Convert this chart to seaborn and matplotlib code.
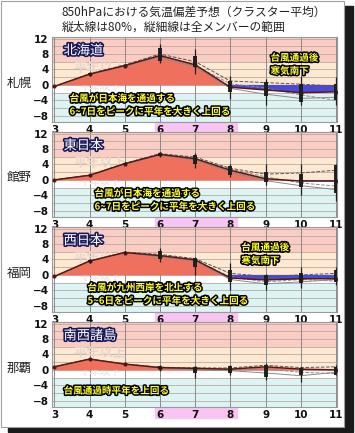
import numpy as np
import pandas as pd
import seaborn as sns
import matplotlib.pyplot as plt
import matplotlib.patheffects as pe
from matplotlib.patches import Rectangle
from matplotlib.transforms import blended_transform_factory

sns.set_theme(style="white")
plt.rcParams['font.family'] = ['Noto Sans CJK JP', 'DejaVu Sans']

# data
days = [3, 4, 5, 6, 7, 8, 9, 10, 11]
stations = ['札幌', '館野', '福岡', '那覇']
regions = ['北海道', '東日本', '西日本', '南西諸島']

sapporo_mean = [-0.4, 2.8, 5.0, 7.6, 5.2, -0.6, -1.3, -2.0, -1.8]
sapporo_lo80 = [-0.4, 2.6, 4.8, 6.3, 4.6, -1.9, -2.8, -4.4, -4.0]
sapporo_hi80 = [-0.4, 3.0, 5.2, 9.5, 7.6, 1.1, 0.7, 0.3, 0.3]
sapporo_min = [-0.4, 2.4, 4.6, 5.8, 2.8, -3.6, -5.3, -5.3, -5.3]
sapporo_max = [-0.4, 3.2, 5.4, 10.5, 9.3, 2.4, 1.5, 2.4, 2.0]
sapporo_m1 = [-0.4, 2.9, 5.2, 8.0, 6.0, 1.0, 0.6, 0.2, -0.3]
sapporo_m2 = [-0.4, 2.7, 4.9, 7.2, 4.6, -0.9, -2.4, -3.5, -3.2]
sapporo_m3 = [-0.4, 2.8, 5.1, 7.4, 5.0, 0.3, -0.8, -2.6, -4.0]

tateno_mean = [0.0, 1.2, 4.2, 6.6, 5.5, 2.5, 0.3, -0.3, -0.3]
tateno_lo80 = [0.0, 1.1, 4.0, 6.3, 4.1, 1.2, -0.5, -1.8, -3.5]
tateno_hi80 = [0.0, 1.3, 4.4, 6.9, 6.4, 3.6, 2.0, 1.6, 3.8]
tateno_min = [0.0, 1.0, 3.8, 6.0, 3.0, 0.8, -1.4, -4.0, -5.5]
tateno_max = [0.0, 1.4, 4.6, 7.2, 7.0, 4.2, 4.0, 4.2, 4.2]
tateno_m1 = [0.0, 1.2, 4.3, 6.8, 5.9, 3.0, 1.5, 1.8, 2.5]
tateno_m2 = [0.0, 1.2, 4.1, 6.4, 5.2, 2.0, -0.2, -1.5, -2.5]
tateno_m3 = [0.0, 1.2, 4.2, 6.5, 5.4, 2.8, 0.8, -0.8, -1.6]

fukuoka_mean = [-0.4, 3.6, 5.8, 5.0, 3.9, -0.8, -1.3, -1.0, -1.0]
fukuoka_lo80 = [-0.4, 3.4, 5.6, 4.0, 2.1, -1.8, -2.6, -2.1, -1.8]
fukuoka_hi80 = [-0.4, 3.8, 6.0, 6.2, 4.4, 1.3, 0.0, 0.5, 1.3]
fukuoka_min = [-0.4, 3.2, 5.4, 3.4, 0.0, -3.9, -3.9, -3.4, -2.6]
fukuoka_max = [-0.4, 4.0, 6.2, 7.0, 4.7, 3.1, 0.3, 2.1, 2.1]
fukuoka_m1 = [-0.4, 3.6, 5.9, 5.3, 4.2, 0.4, -0.4, 0.0, 0.4]
fukuoka_m2 = [-0.4, 3.6, 5.7, 4.7, 3.5, -1.2, -2.3, -1.8, -1.2]
fukuoka_m3 = [-0.4, 3.6, 5.8, 5.0, 3.7, -0.5, -1.8, -1.2, -1.6]

naha_mean = [0.8, 2.8, 1.5, 0.6, 0.4, 0.2, 0.8, 0.2, 0.0]
naha_lo80 = [0.8, 2.7, 1.4, 0.2, -0.8, -0.9, -1.8, -1.2, -1.2]
naha_hi80 = [0.8, 2.9, 1.6, 1.0, 0.8, 1.1, 1.3, 0.6, 0.8]
naha_min = [0.8, 2.6, 1.3, -0.2, -2.1, -1.3, -2.6, -3.0, -1.3]
naha_max = [0.8, 3.0, 1.7, 1.3, 0.8, 1.3, 1.7, 0.8, 1.3]
naha_m1 = [0.8, 2.8, 1.5, 0.7, 0.5, 0.5, 1.2, 0.6, 0.8]
naha_m2 = [0.8, 2.8, 1.5, 0.5, 0.0, -0.2, -0.8, -1.5, -0.6]
naha_m3 = [0.8, 2.8, 1.5, 0.6, 0.3, 0.0, 0.2, -0.6, -1.0]

means = [sapporo_mean, tateno_mean, fukuoka_mean, naha_mean]
lo80 = [sapporo_lo80, tateno_lo80, fukuoka_lo80, naha_lo80]
hi80 = [sapporo_hi80, tateno_hi80, fukuoka_hi80, naha_hi80]
mins = [sapporo_min, tateno_min, fukuoka_min, naha_min]
maxs = [sapporo_max, tateno_max, fukuoka_max, naha_max]
members = [[sapporo_m1, sapporo_m2, sapporo_m3],
           [tateno_m1, tateno_m2, tateno_m3],
           [fukuoka_m1, fukuoka_m2, fukuoka_m3],
           [naha_m1, naha_m2, naha_m3]]

notes = [['台風が日本海を通過する\n6~7日をピークに平年を大きく上回る', '台風通過後\n寒気南下'],
         ['台風が日本海を通過する\n6~7日をピークに平年を大きく上回る', None],
         ['台風が九州西岸を北上する\n5~6日をピークに平年を大きく上回る', '台風通過後\n寒気南下'],
         ['台風通過時平年を上回る', None]]
note_pos = [[(3.43, -5.2), (9.14, 5.3)],
            [(4.14, -5.2), None],
            [(3.94, -5.0), (8.31, 5.4)],
            [(3.26, -5.4), None]]

W, H = 355, 433
fig = plt.figure(figsize=(W / 100, H / 100), dpi=100)
fig.patch.set_facecolor('white')


def rect(x0, y0, x1, y1):
    return [x0 / W, 1 - y1 / H, (x1 - x0) / W, (y1 - y0) / H]


# card with shadow
fig.patches.append(Rectangle((8 / W, 1 - 432 / H), 345 / W, 426 / H,
                             transform=fig.transFigure, color='#1a1a1a', zorder=-3))
fig.patches.append(Rectangle((1 / W, 1 - 427 / H), 343 / W, 426 / H,
                             transform=fig.transFigure, facecolor='white',
                             edgecolor='#a0a0a0', lw=0.8, zorder=-2))

fig.text(62 / W, 1 - 12 / H, '850hPaにおける気温偏差予想（クラスター平均）',
         fontsize=8.5, va='center', ha='left', color='#222222')
fig.text(62 / W, 1 - 27 / H, '縦太線は80%，縦細線は全メンバーの範囲',
         fontsize=8.5, va='center', ha='left', color='#222222')

yellow_fx = [pe.withStroke(linewidth=2.2, foreground='black')]
white_fx = [pe.withStroke(linewidth=2.4, foreground='#1a1a5a')]
tops = [37, 132, 227, 322]

for i in range(4):
    ax = fig.add_axes(rect(52, tops[i], 337, tops[i] + 85))
    ax.set_xlim(2.93, 11.03)
    ax.set_ylim(-9.6, 12.4)

    # background bands
    ax.axhspan(6, 13, color='#f9cdc4', zorder=0, lw=0)
    ax.axhspan(0, 6, color='#fde9d2', zorder=0, lw=0)
    ax.axhspan(-2.2, 0, color='white', zorder=0, lw=0)
    ax.axhspan(-10, -2.2, color='#dcf4f4', zorder=0, lw=0)
    for g in range(-8, 13, 2):
        ax.axhline(g, color='#c0a8a0', lw=0.6, zorder=1)
    for d in days:
        ax.axvline(d, color='#8a8a8a', lw=0.7, zorder=1)

    # faint watermarks
    ax.text(4.3, 4.4, '平年以上', fontsize=9.5, color='#e8d4cc', fontweight='bold',
            ha='center', va='center', zorder=1)
    ax.text(4.3, -0.55, '平年以下', fontsize=7.5, color='#e4ecec', fontweight='bold',
            ha='center', va='center', zorder=1)

    m = np.array(means[i])
    ax.fill_between(days, 0, m, where=m >= 0, interpolate=True,
                    color='#f0705e', lw=0, zorder=2)
    ax.fill_between(days, 0, m, where=m <= 0, interpolate=True,
                    color='#4a4ad6', lw=0, zorder=2)

    df = pd.DataFrame({'day': days, 'mean': means[i]})
    for k, mem in enumerate(members[i]):
        sns.lineplot(x=days, y=mem, ax=ax, color='#555555' if k == 0 else '#8a8a8a',
                     lw=0.7, linestyle='--' if k != 1 else '-', zorder=3)
    sns.lineplot(data=df, x='day', y='mean', ax=ax, color='#5a1810', lw=1.1,
                 marker='o', markersize=3, markeredgewidth=0, zorder=4)

    ax.vlines(days, mins[i], maxs[i], color='#1e1e1e', lw=0.9, zorder=5)
    ax.vlines(days, lo80[i], hi80[i], color='#1e1e1e', lw=2.8, zorder=5)

    ax.set_xlabel('')
    ax.set_ylabel('')
    ax.set_xticks(days)
    ax.set_xticklabels([str(d) for d in days], fontsize=7.5, fontweight='bold',
                       family='DejaVu Sans')
    ax.set_yticks([-8, -4, 0, 4, 8, 12])
    ax.set_yticklabels(['\u22128', '\u22124', '0', '4', '8', '12'], fontsize=7.5,
                       fontweight='bold', family='DejaVu Sans')
    ax.tick_params(length=0, pad=2.5, colors='#111111')
    for s in ax.spines.values():
        s.set_color('#9a9a9a')
        s.set_linewidth(0.8)

    # pink strip behind days 6-8
    tr = blended_transform_factory(ax.transData, ax.transAxes)
    ax.add_patch(Rectangle((5.85, -0.125), 2.35, 0.125, transform=tr,
                           color='#f8c4f2', clip_on=False, zorder=0))

    ax.text(3.26, 8.8, regions[i], fontsize=9.5, color='white', ha='left',
            va='center', path_effects=white_fx, zorder=6)
    for note, pos in zip(notes[i], note_pos[i]):
        if note is None:
            continue
        ax.text(pos[0], pos[1], note, fontsize=6.9, color='#ffff30', fontweight='bold',
                ha='left', va='center', linespacing=1.4, path_effects=yellow_fx, zorder=6)

    fig.text(19 / W, 1 - (tops[i] + 46) / H, stations[i], fontsize=9,
             ha='center', va='center', color='#222222')

fig.savefig('out.png', dpi=100)
